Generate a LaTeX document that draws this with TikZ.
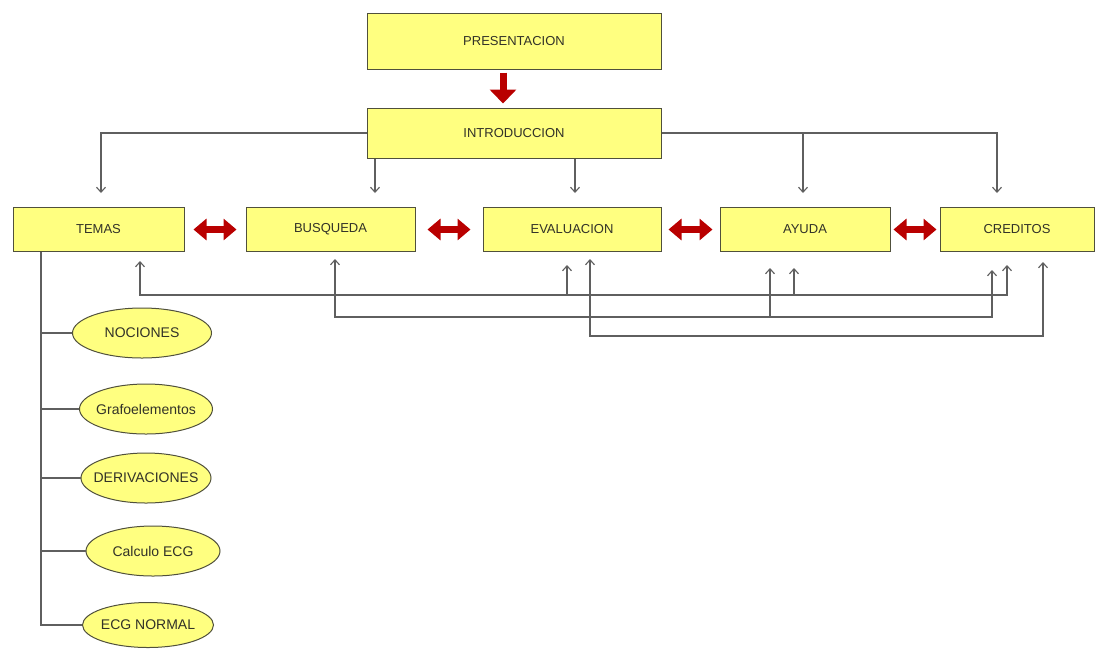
\documentclass[tikz,border=0pt]{standalone}
\usepackage{fontspec}
\setmainfont{Liberation Sans}
\usepackage{tikz}
\usetikzlibrary{arrows.meta,positioning,shapes.geometric}
\definecolor{amarillo}{RGB}{255,255,128}
\definecolor{borde}{RGB}{80,80,60}
\definecolor{texto}{RGB}{50,50,40}
\definecolor{conector}{RGB}{95,95,95}
\definecolor{rojo}{RGB}{185,0,0}

\begin{document}
\begin{tikzpicture}[x=1pt, y=-1pt,
  every node/.style={font=\fontsize{13}{15}\selectfont, text=texto},
  caja/.style={draw=borde, fill=amarillo, line width=1pt, minimum height=44pt, inner sep=0pt},
  burbuja/.style={draw=borde, fill=amarillo, line width=1pt, ellipse, minimum height=50pt,
    inner xsep=-20pt, inner ysep=0pt, font=\fontsize{14}{16}\selectfont},
  linea/.style={draw=conector, line width=1.1pt},
  flecha/.style={linea, -{Straight Barb[length=5pt,width=9pt]}},
  doble/.style={linea, {Straight Barb[length=5pt,width=9pt]}-{Straight Barb[length=5pt,width=9pt]}},
  gorda/.style={draw=rojo, line width=7pt, {Triangle[width=21pt,length=13pt]}-{Triangle[width=21pt,length=13pt]}},
  baja/.style={draw=rojo, line width=7pt, -{Triangle[width=26pt,length=14pt]}}]
  \useasboundingbox[fill=white] (0,0) rectangle (1097,649);

  \node (Pres) [caja, minimum width=294pt, minimum height=56pt] at (514,41) {PRESENTACION};
  \node (Intro) [caja, minimum width=294pt, minimum height=50pt, below=38pt of Pres] {INTRODUCCION};
  \node (Temas) [caja, minimum width=171pt] at (98.5,229.5) {TEMAS};
  \node (Busq) [caja, minimum width=169pt, right=61pt of Temas] {BUSQUEDA};
  \node (Eval) [caja, minimum width=178pt, right=67pt of Busq] {EVALUACION};
  \node (Ayuda) [caja, minimum width=170pt, right=58pt of Eval] {AYUDA};
  \node (Cred) [caja, minimum width=154pt, right=49pt of Ayuda] {CREDITOS};

  \node (Noc) [burbuja, minimum width=139pt] at (142,333) {NOCIONES};
  \node (Graf) [burbuja, minimum width=133pt] at (146,409) {Grafoelementos};
  \node (Deriv) [burbuja, minimum width=130pt] at (146,478) {DERIVACIONES};
  \node (Calc) [burbuja, minimum width=134pt] at (153,551) {Calculo ECG};
  \node (Ecg) [burbuja, minimum width=131pt, minimum height=45pt] at (148,625) {ECG NORMAL};

  \draw[baja, shorten <=3pt, shorten >=4pt] (Pres.south -| 503,0) -- (Intro.north -| 503,0);

  \draw[flecha, shorten >=14pt] (Intro.west) -| (Temas.north -| 101,0);
  \draw[flecha, shorten >=14pt] (Intro.south -| 375,0) -- (Busq.north -| 375,0);
  \draw[flecha, shorten >=14pt] (Intro.south -| 575,0) -- (Eval.north -| 575,0);
  \draw[flecha, shorten >=14pt] (Intro.east) -| (Ayuda.north -| 803,0);
  \draw[flecha, shorten >=14pt] (Intro.east) -| (Cred.north -| 997,0);

  \foreach \a/\b/\s in {Temas/Busq/9pt, Busq/Eval/12pt, Eval/Ayuda/7pt, Ayuda/Cred/3pt}
    \draw[gorda, shorten <=\s, shorten >=\s] (\a) -- (\b);

  \coordinate (BusA) at (0,295);
  \coordinate (BusB) at (0,317);
  \coordinate (BusC) at (0,336);
  \draw[doble, shorten <=9pt, shorten >=13pt] (Temas.south -| 140,0) |- (BusA -| 1007,0) -- (Cred.south -| 1007,0);
  \draw[flecha, shorten >=13pt] (BusA -| 567,0) -- (Eval.south -| 567,0);
  \draw[flecha, shorten >=16pt] (BusA -| 794,0) -- (Ayuda.south -| 794,0);
  \draw[doble, shorten <=7pt, shorten >=18pt] (Busq.south -| 335,0) |- (BusB -| 992,0) -- (Cred.south -| 992,0);
  \draw[flecha, shorten >=16pt] (BusB -| 770,0) -- (Ayuda.south -| 770,0);
  \draw[doble, shorten <=7pt, shorten >=10pt] (Eval.south -| 590,0) |- (BusC -| 1043,0) -- (Cred.south -| 1043,0);

  \coordinate (Tronco) at (Temas.south -| 41,0);
  \draw[linea] (Tronco) |- (Ecg.west);
  \foreach \n in {Noc,Graf,Deriv,Calc}
    \draw[linea] (Tronco |- \n.west) -- (\n.west);
\end{tikzpicture}
\end{document}
